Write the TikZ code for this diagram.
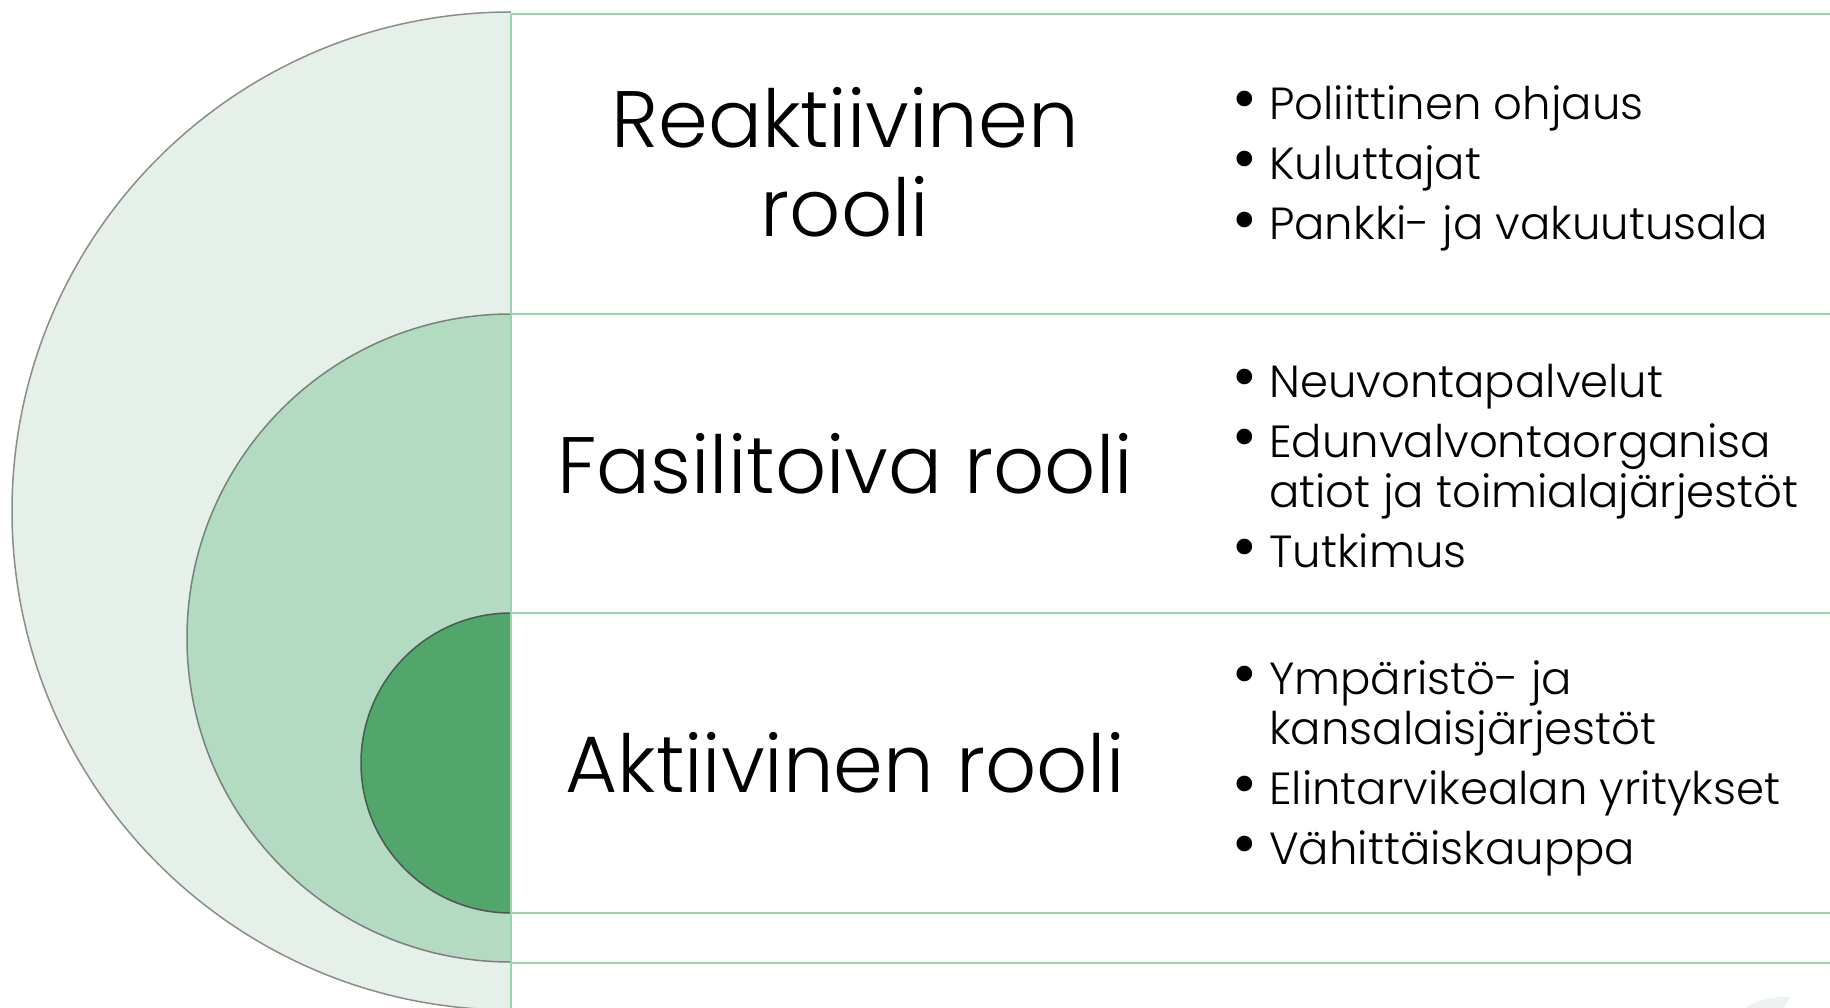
\documentclass[tikz,border=0pt]{standalone}
\usepackage{fontspec}
\setmainfont{Poppins}[UprightFont={* Light}]
\usepackage{graphicx}
\usepackage{tikz}

\definecolor{ringOuter}{HTML}{E4F0E8}
\definecolor{ringMid}{HTML}{B2DBC2}
\definecolor{ringIn}{HTML}{52A66B}
\definecolor{rowGreen}{HTML}{9CD3AF}
\definecolor{arcGrey}{HTML}{8C8C8C}
\definecolor{wmGrey}{HTML}{EEF3F0}

\newcommand{\bul}{\makebox[37pt][l]{\smash{\raisebox{-2pt}{\scalebox{1.5}{\textbullet}}}}}
\newcommand{\ind}{\hspace*{37pt}}

\begin{document}
\begin{tikzpicture}[x=1pt,y=-1pt,
    rowline/.style={draw=rowGreen,line width=2pt},
    rolebox/.style={anchor=base,align=center,inner sep=0pt,font=\fontsize{80}{89}\selectfont},
    listbox/.style={anchor=base west,align=left,inner sep=0pt,font=\fontsize{45}{50}\selectfont}]

    \useasboundingbox[fill=white] (0,0) rectangle (1830,1008);

    % Half discs
    \begin{scope}
    \clip (0,0) rectangle (511,1008);
    \filldraw[fill=ringOuter,draw=arcGrey,line width=1.5pt] (511,511) circle[radius=499pt];
    \filldraw[fill=ringMid,draw=arcGrey!90!black,line width=1.5pt] (511,638) circle[radius=324pt];
    \filldraw[fill=ringIn,draw=arcGrey!60!black,line width=1.5pt] (511,763) circle[radius=150pt];
    \end{scope}

    % Row lines
    \draw[rowline] (511,14) -- (511,1008);
    \foreach \y in {14,314,613,913,963}
        \draw[rowline] (511,\y) -- (1830,\y);

    % Watermark corner
    \fill[wmGrey] (1745,1008) .. controls (1758,999) and (1775,996) .. (1790,997) -- (1784,1008) -- cycle;

    % Roles (base = last line)
    \node[rolebox] (reaktiivinen) at (845,237) {Reaktiivinen\\rooli};
    \node[rolebox] (fasilitoiva) at (845,493) {Fasilitoiva rooli};
    \node[rolebox] (aktiivinen) at (845,792) {Aktiivinen rooli};

    % Actors
    \node[listbox] (reaktiivinenlist) at (1232,240)
        {\bul Poliittinen ohjaus\\[10pt]\bul Kuluttajat\\[10pt]\bul Pankki- ja vakuutusala};
    \node[listbox] (fasilitoivalist) at (1232,567)
        {\bul Neuvontapalvelut\\[10pt]\bul Edunvalvontaorganisa\\\ind atiot ja toimialajärjestöt\\[10pt]\bul Tutkimus};
    \node[listbox] (aktiivinenlist) at (1232,864)
        {\bul Ympäristö- ja\\\ind kansalaisjärjestöt\\[10pt]\bul Elintarvikealan yritykset\\[10pt]\bul Vähittäiskauppa};
\end{tikzpicture}
\end{document}
